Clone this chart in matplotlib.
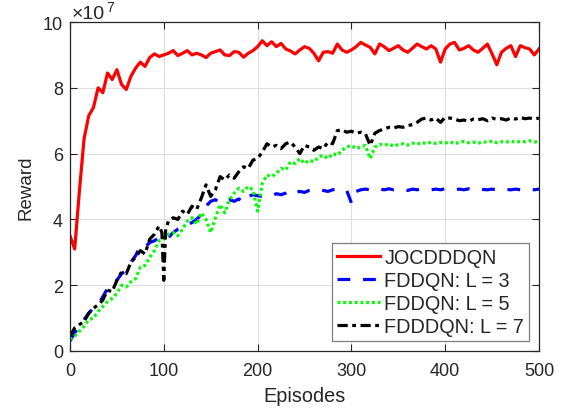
import matplotlib
matplotlib.use("Agg")
import matplotlib.pyplot as plt
import numpy as np

plt.rcParams['font.family'] = ['Liberation Sans', 'DejaVu Sans']

# reward values are in units of 1e7
ep_red = list(range(0, 501, 5))
reward_red = [3.50, 3.10, 4.85, 6.45, 7.15, 7.40, 8.00, 7.85, 8.45, 8.25,
              8.55, 8.10, 7.95, 8.35, 8.60, 8.78, 8.65, 8.92, 9.03, 8.95,
              9.00, 9.05, 9.13, 8.98, 9.05, 9.13, 9.00, 9.05, 9.00, 8.92,
              9.05, 9.10, 9.15, 9.00, 8.98, 9.10, 9.08, 8.93, 9.05, 9.13,
              9.25, 9.43, 9.28, 9.40, 9.25, 9.35, 9.18, 9.12, 9.03, 9.15,
              9.25, 9.20, 9.05, 8.82, 9.08, 9.10, 9.05, 9.33, 9.15, 9.08,
              9.15, 9.25, 9.38, 9.30, 9.23, 9.03, 9.33, 9.25, 9.13, 9.20,
              9.28, 9.15, 9.08, 9.20, 9.33, 9.25, 9.18, 9.28, 9.18, 8.78,
              9.18, 9.33, 9.38, 9.15, 9.20, 9.28, 9.15, 9.08, 9.20, 9.33,
              9.03, 8.70, 9.08, 9.20, 9.28, 8.95, 9.28, 9.22, 9.18, 9.00,
              9.18]

ep_blue = list(range(0, 501, 5))
reward_blue = [0.30, 0.55, 0.75, 0.95, 1.15, 1.30, 1.40, 1.65, 1.90, 1.95,
               2.15, 2.35, 2.45, 2.70, 2.90, 3.20, 3.15, 3.30, 3.35, 3.45,
               3.50, 3.45, 3.60, 3.70, 3.75, 3.85, 3.90, 4.00, 4.15, 4.40,
               4.55, 4.60, 4.50, 4.55, 4.60, 4.55, 4.62, 4.52, 4.70, 4.75,
               4.72, 4.70, 4.75, 4.72, 4.78, 4.75, 4.80, 4.90, 4.82, 4.85,
               4.82, 4.88, 4.90, 4.92, 4.88, 4.85, 4.90, 4.92, 4.90, 4.88,
               4.50, 4.85, 4.90, 4.92, 4.90, 4.88, 4.92, 4.90, 4.93, 4.90,
               4.92, 4.90, 4.88, 4.92, 4.90, 4.93, 4.91, 4.90, 4.92, 4.90,
               4.93, 4.91, 4.90, 4.92, 4.90, 4.93, 4.90, 4.92, 4.91, 4.90,
               4.92, 4.90, 4.93, 4.91, 4.90, 4.92, 4.90, 4.93, 4.91, 4.90,
               4.92]

ep_green = list(range(0, 501, 5))
reward_green = [0.35, 0.45, 0.60, 0.75, 0.95, 1.00, 1.20, 1.35, 1.50, 1.60,
                1.75, 2.00, 1.95, 2.10, 2.20, 2.55, 2.60, 2.85, 3.05, 3.35,
                3.40, 3.55, 3.60, 3.50, 3.70, 3.95, 4.05, 3.85, 4.20, 4.00,
                3.60, 4.05, 4.45, 4.20, 4.60, 4.80, 4.95, 4.85, 5.00, 4.90,
                4.25, 5.10, 5.35, 5.30, 5.40, 5.55, 5.50, 5.75, 5.70, 5.85,
                5.70, 5.80, 5.75, 5.90, 5.95, 5.85, 6.00, 5.95, 6.10, 6.20,
                6.25, 6.15, 6.20, 6.25, 5.85, 6.20, 6.28, 6.25, 6.30, 6.22,
                6.28, 6.30, 6.26, 6.32, 6.28, 6.34, 6.30, 6.35, 6.31, 6.34,
                6.32, 6.36, 6.30, 6.34, 6.37, 6.33, 6.35, 6.31, 6.36, 6.34,
                6.38, 6.33, 6.36, 6.35, 6.38, 6.34, 6.37, 6.36, 6.39, 6.35,
                6.38]

ep_black = [0, 5, 10, 15, 20, 25, 30, 35, 40, 45, 50, 55, 60, 65, 70, 75,
            80, 85, 90, 95, 98, 100, 102, 105, 110, 115, 120, 125, 130, 135,
            140, 145, 150, 155, 160, 165, 170, 175, 180, 185, 190, 195, 200,
            205, 210, 215, 220, 225, 230, 235, 240, 245, 250, 255, 260, 265,
            270, 275, 280, 285, 290, 295, 300, 305, 310, 315, 320, 325, 330,
            335, 340, 345, 350, 355, 360, 365, 370, 375, 380, 385, 390, 395,
            400, 405, 410, 415, 420, 425, 430, 435, 440, 445, 450, 455, 460,
            465, 470, 475, 480, 485, 490, 495, 500]
reward_black = [0.45, 0.70, 0.80, 0.90, 1.15, 1.30, 1.40, 1.55, 1.85, 1.80,
                2.15, 2.40, 2.35, 2.70, 2.85, 3.05, 2.95, 3.40, 3.55, 3.80,
                3.60, 2.15, 3.70, 3.95, 4.05, 4.00, 4.25, 4.15, 4.40, 4.30,
                4.65, 5.05, 4.70, 4.90, 5.30, 5.20, 5.35, 5.25, 5.45, 5.60,
                5.55, 5.80, 5.85, 6.05, 6.30, 6.20, 6.25, 6.15, 6.30, 6.35,
                6.20, 6.00, 6.25, 6.20, 6.10, 6.20, 6.15, 6.35, 6.30, 6.70,
                6.72, 6.65, 6.68, 6.62, 6.65, 6.60, 6.25, 6.62, 6.70, 6.75,
                6.80, 6.78, 6.82, 6.80, 6.85, 6.88, 6.95, 7.05, 7.08, 7.02,
                7.08, 6.95, 7.10, 7.08, 7.05, 7.00, 7.02, 6.98, 7.05, 7.03,
                7.06, 7.00, 7.08, 7.04, 7.06, 7.02, 7.08, 7.05, 7.10, 7.06,
                7.08, 7.05, 7.08]

labels = ['JOCDDDQN', 'FDDQN: L = 3', 'FDDQN: L = 5', 'FDDDQN: L = 7']
xticks = [0, 100, 200, 300, 400, 500]
yticks = [0, 2, 4, 6, 8, 10]

dark = '#262626'
W, H = 569, 410
fig = plt.figure(figsize=(W / 100, H / 100), dpi=100)
ax = fig.add_axes([0.1230, 0.1415, 0.8243, 0.8024])

lw = 2.3
ax.plot(ep_red, reward_red, color='#ff0000', lw=lw, label=labels[0])
ax.plot(ep_blue, reward_blue, color='#0000ff', lw=lw, dashes=(4, 4), label=labels[1])
ax.plot(ep_green, reward_green, color='#00ff00', lw=lw, dashes=(0.9, 0.9), label=labels[2])
ax.plot(ep_black, reward_black, color='#000000', lw=lw, dashes=(3.2, 1.4, 1.2, 1.4), label=labels[3])

ax.set_xlim(0, 500)
ax.set_ylim(0, 10)
ax.set_xticks(xticks)
ax.set_yticks(yticks)
ax.grid(True, color='#dedede', lw=0.8)
ax.set_axisbelow(True)
ax.tick_params(direction='in', top=True, right=True, length=5, width=0.8,
               colors=dark, labelsize=13)
ax.tick_params(axis='x', pad=8)
ax.tick_params(axis='y', pad=5)
for s in ax.spines.values():
    s.set_color(dark)
    s.set_linewidth(0.9)

ax.set_xlabel('Episodes', fontsize=14.3, color=dark, labelpad=5)
ax.set_ylabel('Reward', fontsize=13.5, color=dark, labelpad=6)

# exponent label above the y axis
fig.text(72 / W, 1 - 19 / H, '\u00d710', fontsize=14, color=dark,
         ha='left', va='baseline')
fig.text(106 / W, 1 - 0.5 / H, '7', fontsize=10, color=dark,
         ha='left', va='top')

leg = ax.legend(loc='lower right', fontsize=14.3, frameon=True, fancybox=False,
                handlelength=2.2, handletextpad=0.2, labelspacing=0.2,
                borderpad=0.25, borderaxespad=0.5, framealpha=1)
leg.get_frame().set_edgecolor('#7f7f7f')
leg.get_frame().set_linewidth(0.9)
for t in leg.get_texts():
    t.set_color(dark)

fig.savefig('out.png', dpi=100)
